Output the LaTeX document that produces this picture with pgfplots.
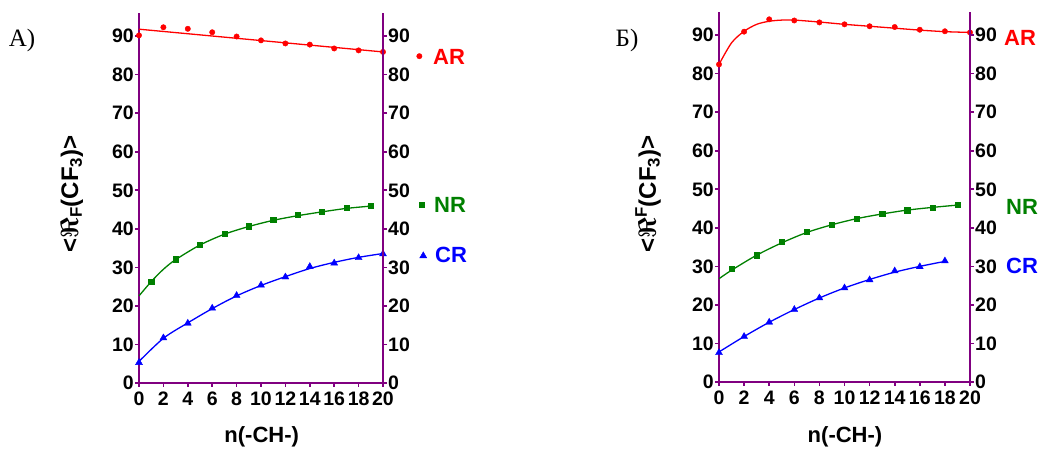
\documentclass[border=0pt]{standalone}
\usepackage{pgfplots}
\pgfplotsset{compat=1.18}
\usepackage{fontspec}
\setmainfont{Liberation Sans}
\newfontfamily\seriffont{Liberation Serif}
\definecolor{axpurple}{RGB}{128,0,128}
\definecolor{cred}{RGB}{255,0,0}
\definecolor{cgreen}{RGB}{0,128,0}
\definecolor{cblue}{RGB}{0,0,255}
\pgfplotsset{
  base/.style={
    scale only axis, anchor=south west,
    xmin=0, xmax=20, ymin=0, ymax=96, clip=false,
    axis line style={axpurple, line width=1.8pt, -},
    tick style={axpurple, line width=1.6pt},
    tick align=outside, major tick length=4pt,
    ytick={0,10,...,90}, xtick={0,2,...,20},
    ticklabel style={font=\fontsize{19.5}{21}\selectfont\bfseries, text=black},
    yticklabel style={inner sep=1pt},
    xticklabel style={inner sep=2pt, yshift=-3pt},
    /pgf/number format/assume math mode=true,
  },
  leftax/.style={base, axis x line*=bottom, axis y line*=left},
  rightax/.style={base, axis x line=none, axis y line*=right},
  fit/.style={line width=1.3pt, smooth, no marks},
  ARm/.style={only marks, mark=*, cred, mark size=2.7pt},
  NRm/.style={only marks, mark=square*, cgreen, mark size=2.6pt},
  CRm/.style={only marks, mark=triangle*, cblue, mark size=4pt},
}
\newcommand{\lblfont}{\fontsize{22}{24}\selectfont\bfseries}
\newcommand{\ylblfont}{\fontsize{24}{26}\selectfont\bfseries}
\begin{document}
\begin{tikzpicture}
\useasboundingbox (0,0) rectangle (1039pt,449pt);
% ---------- Panel A ----------
\begin{axis}[leftax, at={(139pt,66pt)}, width=244pt, height=370pt]
\addplot[fit, cred] coordinates {(0,91.8) (20,85.9)};
\addplot[ARm] coordinates {(0,90.2) (2,92.3) (4,91.9) (6,91.0) (8,89.9) (10,88.9) (12,88.1) (14,87.8) (16,86.8) (18,86.3) (20,85.9)};
\addplot[fit, cgreen] coordinates {(0,22.6) (1,26.3) (2,29.5) (3,32.0) (5,35.8) (7,38.6) (9,40.6) (11,42.2) (13,43.4) (15,44.4) (17,45.3) (19,45.9)};
\addplot[NRm] coordinates {(1,26.2) (3,32.1) (5,35.9) (7,38.75) (9,40.7) (11,42.4) (13,43.7) (15,44.5) (17,45.4) (19,46.1)};
\addplot[fit, cblue] coordinates {(0,5.6) (2,11.6) (4,15.6) (6,19.3) (8,22.6) (10,25.3) (12,27.6) (14,29.7) (16,31.3) (18,32.6) (20,33.6)};
\addplot[CRm] coordinates {(0,5.3) (2,11.7) (4,15.5) (6,19.4) (8,22.7) (10,25.4) (12,27.5) (14,30.2) (16,31.1) (18,32.5) (20,33.5)};
\end{axis}
\begin{axis}[rightax, at={(139pt,66pt)}, width=244pt, height=370pt]
\addplot[ARm] coordinates {(22.98,84.8)};
\addplot[NRm] coordinates {(23.17,46.2)};
\addplot[CRm] coordinates {(23.3,33.0)};
\end{axis}
\node[cred, font=\lblfont] at (449pt,392pt) {AR};
\node[cgreen, font=\lblfont] at (450pt,244pt) {NR};
\node[cblue, font=\lblfont] at (451pt,194pt) {CR};
\node[rotate=90, font=\ylblfont] at (72pt,255pt) {<{\boldmath$\Re$}\textsubscript{F}(CF\textsubscript{3})>};
\node[font=\lblfont] at (261.7pt,12pt) {n(-CH-)};
\node[font=\fontsize{25}{27}\selectfont\seriffont] at (22pt,409pt) {А)};
% ---------- Panel B ----------
\begin{axis}[leftax, at={(719pt,67pt)}, width=251pt, height=370pt]
\addplot[fit, cred] coordinates {(0,82.4) (1,88.0) (2,91.0) (3,92.8) (4,93.6) (5,93.9) (6,93.9) (8,93.4) (10,92.8) (12,92.3) (14,91.8) (16,91.3) (18,90.9) (20,90.7)};
\addplot[ARm] coordinates {(0,82.4) (2,90.9) (4,94.1) (6,93.8) (8,93.3) (10,92.8) (12,92.3) (14,92.1) (16,91.4) (18,91.0) (20,90.7)};
\addplot[fit, cgreen] coordinates {(0,26.8) (1,29.0) (3,32.9) (5,36.1) (7,38.8) (9,40.8) (11,42.4) (13,43.6) (15,44.6) (17,45.3) (19,45.9)};
\addplot[NRm] coordinates {(1,29.3) (3,32.9) (5,36.3) (7,38.9) (9,40.9) (11,42.4) (13,43.7) (15,44.6) (17,45.3) (19,46.0)};
\addplot[fit, cblue] coordinates {(0,7.8) (2,11.8) (4,15.5) (6,18.8) (8,21.8) (10,24.4) (12,26.6) (14,28.5) (16,30.0) (18,31.3)};
\addplot[CRm] coordinates {(0,7.6) (2,11.8) (4,15.5) (6,18.8) (8,21.8) (10,24.4) (12,26.5) (14,28.8) (16,29.9) (18,31.4)};
\end{axis}
\begin{axis}[rightax, at={(719pt,67pt)}, width=251pt, height=370pt]
\end{axis}
\node[cred, font=\lblfont] at (1020pt,411pt) {AR};
\node[cgreen, font=\lblfont] at (1022pt,242pt) {NR};
\node[cblue, font=\lblfont] at (1022pt,183pt) {CR};
\node[rotate=90, font=\ylblfont] at (648pt,255pt) {<{\boldmath$\Re$}\textsuperscript{F}(CF\textsubscript{3})>};
\node[font=\lblfont] at (845pt,12pt) {n(-CH-)};
\node[font=\fontsize{25}{27}\selectfont\seriffont] at (627pt,409pt) {Б)};
\end{tikzpicture}
\end{document}
